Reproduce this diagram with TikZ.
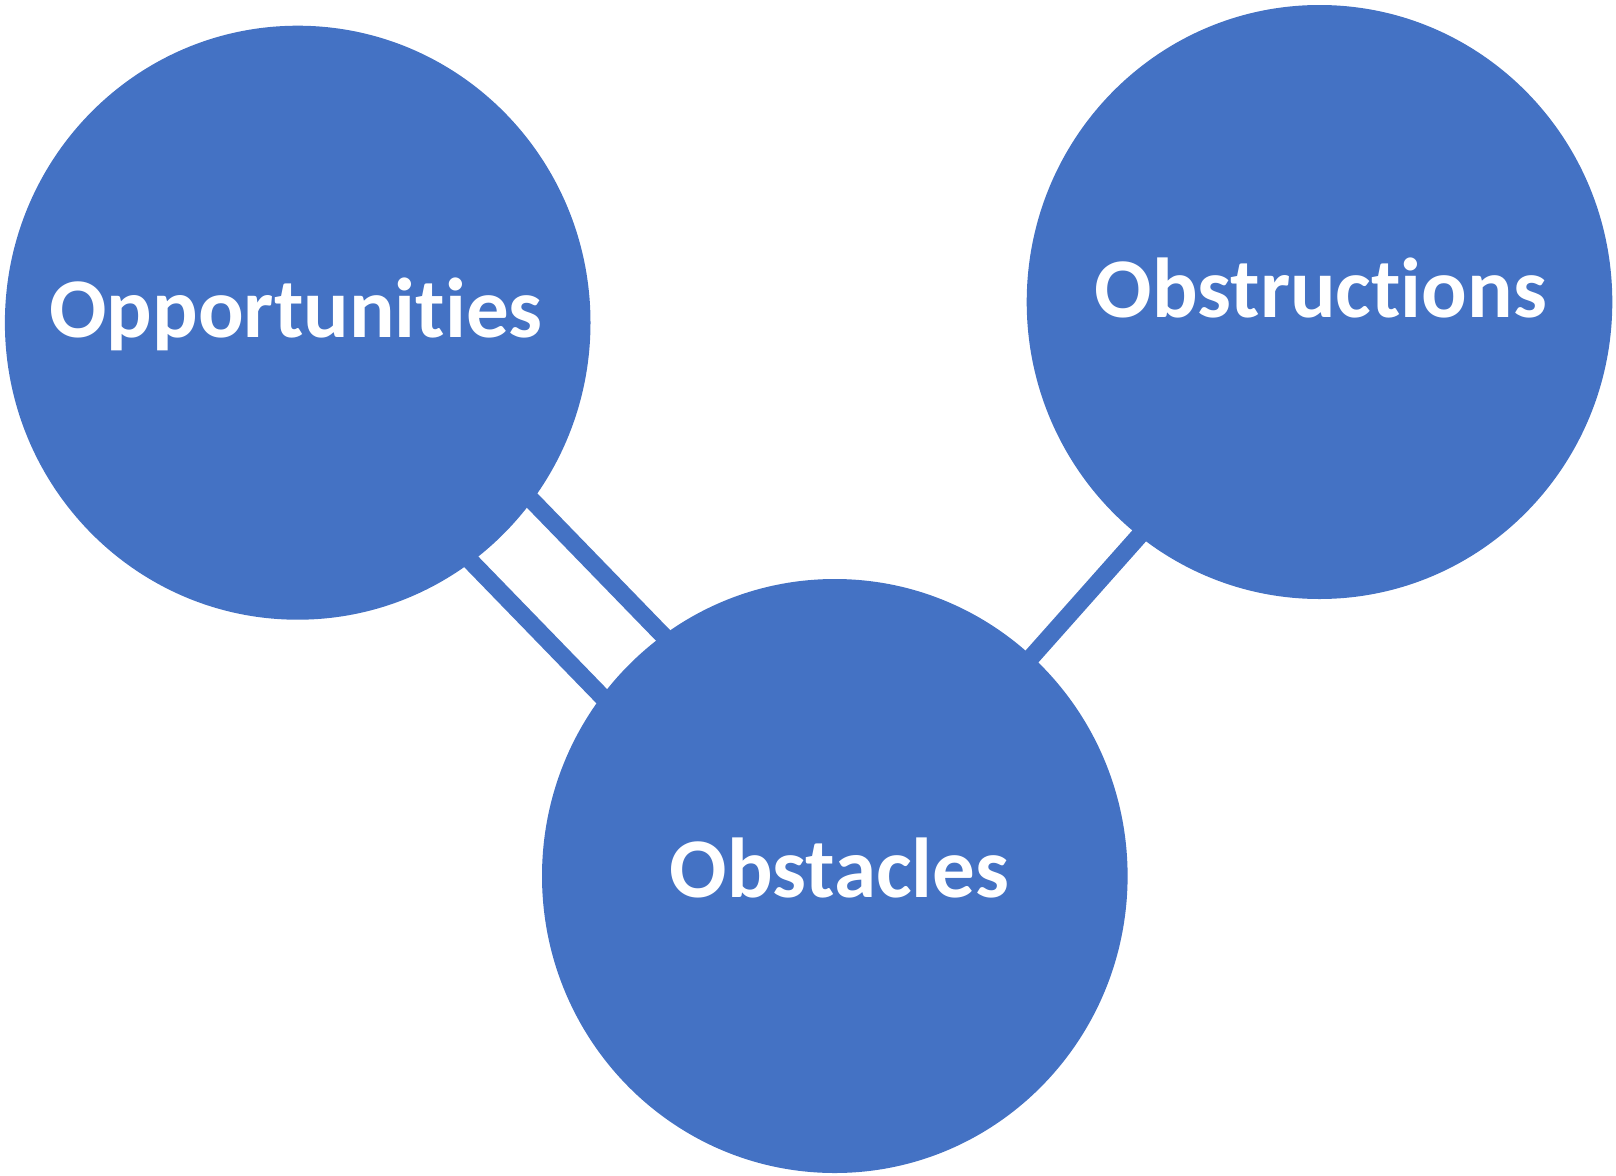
\documentclass[tikz,border=0pt]{standalone}
\usepackage{fontspec}
\setmainfont{Carlito}[Ligatures={NoCommon,NoRare,NoContextual}]
\usetikzlibrary{shapes.geometric,backgrounds}

\definecolor{blobblue}{HTML}{4472C4}

\tikzset{
	blob/.style={ellipse, fill=blobblue, draw=none, inner sep=0pt, minimum width=585.6pt, minimum height=594pt},
	word/.style={text=white, font=\fontsize{85}{100}\selectfont\bfseries, inner sep=0pt, text height=51pt, text depth=17pt},
	link/.style={draw=blobblue, line width=17.5pt},
}

\begin{document}
\begin{tikzpicture}[x=1pt, y=-1pt]
			\useasboundingbox (0,0) rectangle (1616,1175);
			% the three circles
			\node[blob, label={[word, yshift=2.7pt,  xshift=-1.7pt]center:Opportunities}] (opp)  at (297.7, 322.7) {};
			\node[blob, label={[word, yshift=2pt,    xshift=1.5pt]center:Obstructions}]   (obst) at (1319.5, 302)  {};
			\node[blob, label={[word, yshift=-4.6pt, xshift=4.7pt]center:Obstacles}]      (obs)  at (834.8, 876)   {};
			% connectors, kept behind the circles
			\begin{scope}[on background layer]
			\draw[link] ([shift={(31.8,-30.9)}]opp.center)  -- ([shift={(31.8,-30.9)}]obs.center);
			\draw[link] ([shift={(-30.1,29.3)}]opp.center)  -- ([shift={(-30.1,29.3)}]obs.center);
			\draw[link] ([shift={(-1.6,4.2)}]obs.center)    -- ([shift={(18.2,10.4)}]obst.center);
			\end{scope}
		\end{tikzpicture}
\end{document}
